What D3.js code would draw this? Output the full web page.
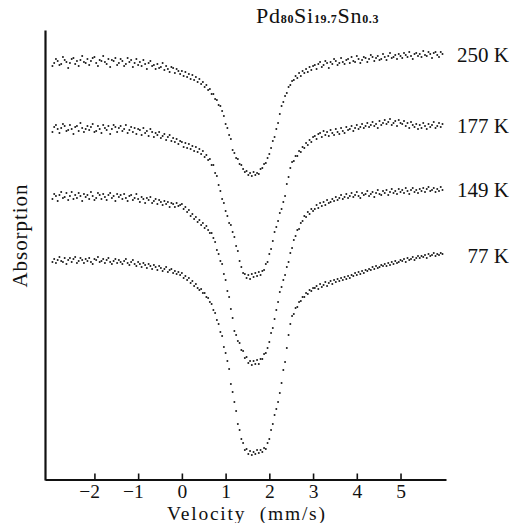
<!DOCTYPE html>
<html><head><meta charset="utf-8">
<script src="https://cdn.jsdelivr.net/npm/d3@7"></script>
<style>body{margin:0;background:#fff}svg{display:block}</style>
</head><body>
<svg id="chart" width="520" height="523"></svg>
<script>
// Doppler velocity of each channel (mm/s)
const velocities = [
-2.96,-2.92,-2.88,-2.84,-2.8,-2.76,-2.72,-2.68,-2.64,-2.6,
-2.56,-2.52,-2.48,-2.44,-2.4,-2.36,-2.32,-2.28,-2.24,-2.2,
-2.16,-2.12,-2.08,-2.04,-2,-1.96,-1.92,-1.88,-1.84,-1.8,
-1.76,-1.72,-1.68,-1.64,-1.6,-1.56,-1.52,-1.48,-1.44,-1.4,
-1.36,-1.32,-1.28,-1.24,-1.2,-1.16,-1.12,-1.08,-1.04,-1,
-0.96,-0.92,-0.88,-0.84,-0.8,-0.76,-0.72,-0.68,-0.64,-0.6,
-0.56,-0.52,-0.48,-0.44,-0.4,-0.36,-0.32,-0.28,-0.24,-0.2,
-0.16,-0.12,-0.08,-0.04,
0,0.04,0.08,0.12,0.16,0.2,0.24,0.28,0.32,0.36,
0.4,0.44,0.48,0.52,0.56,0.6,0.64,0.68,0.72,0.76,
0.8,0.84,0.88,0.92,0.96,1,1.04,1.08,1.12,1.16,
1.2,1.24,1.28,1.32,1.36,1.4,1.44,1.48,1.52,1.56,
1.6,1.64,1.68,1.72,1.76,1.8,1.84,1.88,1.92,1.96,
2,2.04,2.08,2.12,2.16,2.2,2.24,2.28,2.32,2.36,
2.4,2.44,2.48,2.52,2.56,2.6,2.64,2.68,2.72,2.76,
2.8,2.84,2.88,2.92,2.96,3,
3.04,3.08,3.12,3.16,3.2,3.24,3.28,3.32,3.36,3.4,
3.44,3.48,3.52,3.56,3.6,3.64,3.68,3.72,3.76,3.8,
3.84,3.88,3.92,3.96,4,4.04,4.08,4.12,4.16,4.2,
4.24,4.28,4.32,4.36,4.4,4.44,4.48,4.52,4.56,4.6,
4.64,4.68,4.72,4.76,4.8,4.84,4.88,4.92,4.96,5,
5.04,5.08,5.12,5.16,5.2,5.24,5.28,5.32,5.36,5.4,
5.44,5.48,5.52,5.56,5.6,5.64,5.68,5.72,5.76,5.8,
5.84,5.88,5.92,5.96];

const temperatures = ["250 K", "177 K", "149 K", "77 K"];

// Absorption (arbitrary units, spectra stacked, larger = more absorption)
const abs250 = [
3.6,3.3,2.9,3.1,3.5,3.4,2.7,3.0,3.2,3.8,
3.3,2.9,2.8,3.4,3.1,3.6,3.0,2.6,3.2,3.3,
2.9,3.5,3.1,2.8,2.7,3.3,3.6,3.0,3.1,2.6,
3.2,3.4,2.9,3.7,3.0,3.1,2.8,3.5,3.3,2.9,
3.1,3.6,3.4,2.8,3.2,3.0,3.7,3.3,2.9,3.5,
3.2,3.6,3.0,3.4,3.9,3.3,3.1,3.6,3.5,3.9,
3.4,3.8,3.7,3.3,4.0,3.6,3.9,4.2,3.7,3.8,
4.3,3.9,4.1,4.4,
4.1,4.6,4.2,4.7,4.4,4.9,4.5,5.0,4.7,5.2,
4.9,5.4,5.2,5.7,5.5,6.0,5.9,6.4,6.4,6.9,
7.0,7.5,7.6,8.1,8.6,9.4,9.8,10.5,10.9,12.0,
12.3,12.8,12.9,13.4,13.5,13.9,14.2,14.1,14.5,14.3,
14.6,14.2,14.5,14.3,14.4,13.9,13.8,13.4,13.3,12.8,
12.4,11.8,11.1,10.7,9.9,9.3,8.4,7.6,7.2,6.6,
6.3,5.7,5.5,5.1,5.0,4.6,4.8,4.3,4.6,4.1,
4.3,3.9,4.2,3.7,4.0,3.6,
3.5,3.9,3.4,3.2,3.7,3.5,3.1,3.3,3.8,3.2,
3.4,2.9,3.1,3.5,3.3,2.8,3.2,3.4,3.0,2.9,
3.3,2.7,3.1,3.2,2.6,2.9,3.3,3.0,2.7,2.8,
3.2,2.9,2.5,2.7,3.1,2.8,2.6,3.0,2.9,2.4,
2.7,3.0,2.6,2.3,2.8,2.7,2.5,2.9,2.4,2.6,
2.8,2.3,2.5,2.7,2.2,2.6,2.9,2.4,2.3,2.6,
2.4,2.7,2.1,2.5,2.6,2.2,2.4,2.8,2.3,2.2,
2.5,2.7,2.2,2.4];

const abs177 = [
10.2,9.7,9.5,9.9,10.3,9.8,9.4,9.6,10.1,10.0,
9.5,9.9,10.4,9.7,9.6,10.1,9.3,9.8,10.2,9.9,
9.6,10.0,9.7,9.4,10.2,10.1,9.6,9.9,10.3,9.5,
9.8,10.0,9.6,10.4,9.9,9.5,9.7,10.2,9.8,9.6,
10.1,9.9,9.5,10.3,10.0,9.7,10.2,9.8,10.4,9.9,
10.0,10.5,9.8,10.3,10.1,10.6,9.9,10.2,10.7,10.3,
10.5,10.2,10.8,10.6,10.4,11.0,10.7,10.5,11.1,10.8,
11.2,10.9,11.4,11.1,
11.2,11.7,11.3,11.8,11.4,11.9,11.6,12.1,11.7,12.2,
11.9,12.4,12.1,12.7,12.5,13.0,12.9,13.5,13.5,14.3,
14.6,15.5,16.1,16.9,17.3,18.1,18.6,19.3,19.5,20.2,
20.7,21.6,22.1,23.1,23.7,24.3,24.4,24.8,24.5,24.9,
24.4,24.7,24.3,24.6,24.2,24.5,24.1,24.0,23.4,23.2,
22.4,21.9,21.1,20.2,19.7,19.1,18.3,17.9,17.2,16.6,
15.4,14.7,13.8,13.2,13.1,12.6,12.6,12.1,12.2,11.7,
11.8,11.3,11.5,11.0,11.2,10.7,
10.6,10.9,10.4,10.3,10.7,10.1,10.5,10.2,10.6,10.0,
10.3,10.5,9.9,10.2,10.4,9.8,10.1,10.3,9.7,10.0,
9.9,9.6,10.1,9.8,9.5,9.9,9.7,9.4,9.8,9.6,
9.3,9.7,9.5,9.2,9.6,9.4,9.8,9.1,9.5,9.3,
9.0,9.4,9.2,8.9,9.5,9.3,9.1,9.6,9.0,9.3,
9.4,9.1,9.6,9.3,9.8,9.2,9.5,9.7,9.4,9.9,
9.5,9.8,9.3,9.6,9.9,9.4,9.7,9.5,9.2,9.8,
9.6,9.3,9.7,9.4];

const abs149 = [
16.9,16.4,16.6,17.1,16.5,16.2,16.8,16.7,16.3,17.0,
16.6,16.2,16.9,16.5,16.8,16.3,16.6,17.1,16.4,16.7,
16.5,16.9,16.2,16.6,17.0,16.8,16.3,16.5,16.9,16.4,
16.7,17.0,16.5,16.3,16.8,16.6,17.1,16.4,16.7,16.5,
16.9,16.4,16.8,17.1,16.6,16.5,17.0,16.8,16.4,16.9,
17.2,16.7,16.9,17.3,16.8,17.0,16.7,17.3,17.1,16.9,
17.4,17.0,17.2,17.5,17.1,17.4,17.2,17.7,17.3,17.4,
17.7,17.3,17.6,17.5,
17.4,17.9,17.7,18.2,18.0,18.6,18.4,18.9,18.7,19.2,
19.0,19.5,19.3,19.8,19.6,20.0,20.3,20.3,20.8,21.2,
22.0,22.4,23.1,23.4,24.4,25.0,26.1,26.7,27.9,28.8,
30.1,30.5,31.1,31.3,32.0,32.1,32.8,32.7,33.3,33.1,
33.5,33.1,33.4,33.0,33.4,32.9,32.9,32.4,32.3,31.8,
31.2,30.3,29.8,28.9,28.0,27.2,26.2,25.7,25.0,24.5,
23.7,23.2,22.3,21.8,21.0,20.6,20.0,19.9,19.3,19.1,
18.6,18.7,18.2,18.4,17.9,18.1,
17.9,17.5,17.8,17.3,17.6,17.2,17.5,17.0,17.3,17.2,
16.9,17.1,16.7,17.0,16.8,16.5,16.9,16.7,16.4,16.8,
16.6,16.3,16.7,16.5,16.2,16.6,16.8,16.3,16.5,16.4,
16.1,16.6,16.4,16.2,16.7,16.3,16.0,16.4,16.5,16.1,
16.3,16.0,16.5,16.2,15.9,16.3,16.1,16.4,15.9,16.2,
16.0,16.3,15.8,16.1,16.4,16.0,15.8,16.2,16.0,16.3,
15.9,16.1,15.8,16.2,15.9,15.7,16.1,16.0,15.8,16.2,
15.9,16.1,15.7,16.0];

const abs77 = [
23.2,22.9,23.3,23.0,22.7,23.1,23.2,22.8,23.4,23.0,
22.8,23.2,22.9,22.7,23.3,23.1,22.8,23.0,23.3,22.9,
23.1,22.8,23.2,23.4,22.9,23.0,22.7,23.2,23.1,22.9,
23.3,23.0,22.8,23.2,23.4,23.1,22.9,23.3,23.0,23.2,
23.4,23.1,22.9,23.3,23.5,23.2,23.0,23.4,23.6,23.2,
23.4,23.7,23.3,23.5,23.8,23.4,23.6,23.9,23.5,23.7,
24.0,23.6,23.8,24.1,23.9,23.7,24.2,24.0,23.9,24.3,
24.1,24.4,24.2,24.5,
24.3,24.8,24.6,25.0,24.8,25.3,25.1,25.6,25.4,25.8,
26.0,25.9,26.3,26.3,26.7,26.8,27.2,27.4,28.0,28.3,
29.0,29.4,30.2,30.6,31.7,32.3,33.1,33.9,35.4,36.2,
37.2,38.1,39.4,40.0,40.9,41.3,42.0,41.9,42.4,42.1,
42.5,42.2,42.4,42.0,42.3,42.0,42.2,41.8,41.9,41.3,
40.9,40.0,39.4,38.5,37.9,37.2,36.3,35.3,34.0,33.2,
31.8,30.5,29.4,28.6,28.4,27.8,27.7,27.2,27.1,26.7,
26.7,26.3,26.4,26.0,26.1,25.8,
25.8,25.6,25.9,25.4,25.7,25.5,25.2,25.6,25.3,25.1,
25.4,25.0,25.2,24.9,25.1,24.8,25.0,24.7,24.9,24.6,
24.8,24.5,24.6,24.3,24.5,24.2,24.4,24.1,24.3,24.0,
24.1,23.9,24.0,23.7,23.9,23.6,23.8,23.7,23.5,23.6,
23.4,23.6,23.3,23.5,23.2,23.4,23.1,23.3,23.2,23.0,
23.1,22.9,23.2,22.8,23.0,22.9,22.7,23.0,22.8,22.6,
22.8,22.6,22.7,22.5,22.8,22.4,22.6,22.5,22.3,22.6,
22.4,22.5,22.3,22.4];

const xTicks = [-2, -1, 0, 1, 2, 3, 4, 5];
const titleParts = [["Pd", false], ["80", true], ["Si", false], ["19.7", true], ["Sn", false], ["0.3", true]];
const xLabel = "Velocity  (mm/s)";
const yLabel = "Absorption";

const series = [abs250, abs177, abs149, abs77];

const svg = d3.select("#chart");
const FONT = "'Liberation Serif','Times New Roman',serif";

const x = d3.scaleLinear().domain([-3.13, 6.04]).range([45, 446]);
const y = d3.scaleLinear().domain([0, 45]).range([30, 480]);

// Bottom axis
const gx = svg.append("g").attr("transform", "translate(0,479.5)")
  .call(d3.axisBottom(x).tickValues(xTicks).tickSize(-6).tickSizeOuter(0)
    .tickFormat(d => (d < 0 ? "\u2212" : "") + Math.abs(d)));
gx.select(".domain").attr("stroke", "#111").attr("stroke-width", 2);
gx.selectAll(".tick line").attr("stroke", "#111").attr("stroke-width", 1.6);
gx.selectAll(".tick text")
  .attr("y", 18.5).attr("dy", null).attr("x", 5)
  .attr("text-anchor", "end")
  .attr("fill", "#111")
  .style("font-family", FONT).style("font-size", "19.5px");

// Left axis (no ticks)
const gy = svg.append("g").attr("transform", "translate(45,0)")
  .call(d3.axisLeft(y).tickValues([]).tickSizeOuter(0));
gy.select(".domain").attr("stroke", "#111").attr("stroke-width", 2.2);

// Data points
series.forEach((vals, i) => {
  const n = Math.min(vals.length, velocities.length);
  const pts = d3.range(n).map(k => [velocities[k], vals[k]]);
  svg.append("g").selectAll("circle").data(pts).join("circle")
    .attr("cx", d => x(d[0]))
    .attr("cy", d => y(d[1]))
    .attr("r", 1.0)
    .attr("fill", "#1a1a1a");
  // temperature label at right, aligned to the right-hand baseline
  const tail = d3.mean(vals.slice(n - 12, n));
  svg.append("text")
    .attr("x", 509).attr("y", y(tail) + 7.5)
    .attr("text-anchor", "end")
    .attr("fill", "#111")
    .style("font-family", FONT).style("font-size", "21px")
    .text(temperatures[i]);
});

// Title
const title = svg.append("text").attr("x", 256).attr("y", 23)
  .attr("fill", "#111").style("font-family", FONT).style("font-size", "22px");
titleParts.forEach(([t, sub]) => {
  title.append("tspan")
    .style("font-size", sub ? "12px" : "22px")
    .style("font-weight", sub ? "bold" : "normal")
    .attr("letter-spacing", sub ? 0.6 : 0.8)
    .text(t);
});

// Axis labels
svg.append("text")
  .attr("x", 167).attr("y", 519.5)
  .attr("fill", "#111")
  .attr("textLength", 158).attr("lengthAdjust", "spacing")
  .style("white-space", "pre")
  .style("font-family", FONT).style("font-size", "19.5px")
  .text(xLabel);

svg.append("text")
  .attr("transform", "translate(27,236) rotate(-90)")
  .attr("text-anchor", "middle")
  .attr("fill", "#111")
  .attr("textLength", 103).attr("lengthAdjust", "spacing")
  .style("font-family", FONT).style("font-size", "21px")
  .text(yLabel);
</script>
</body></html>
